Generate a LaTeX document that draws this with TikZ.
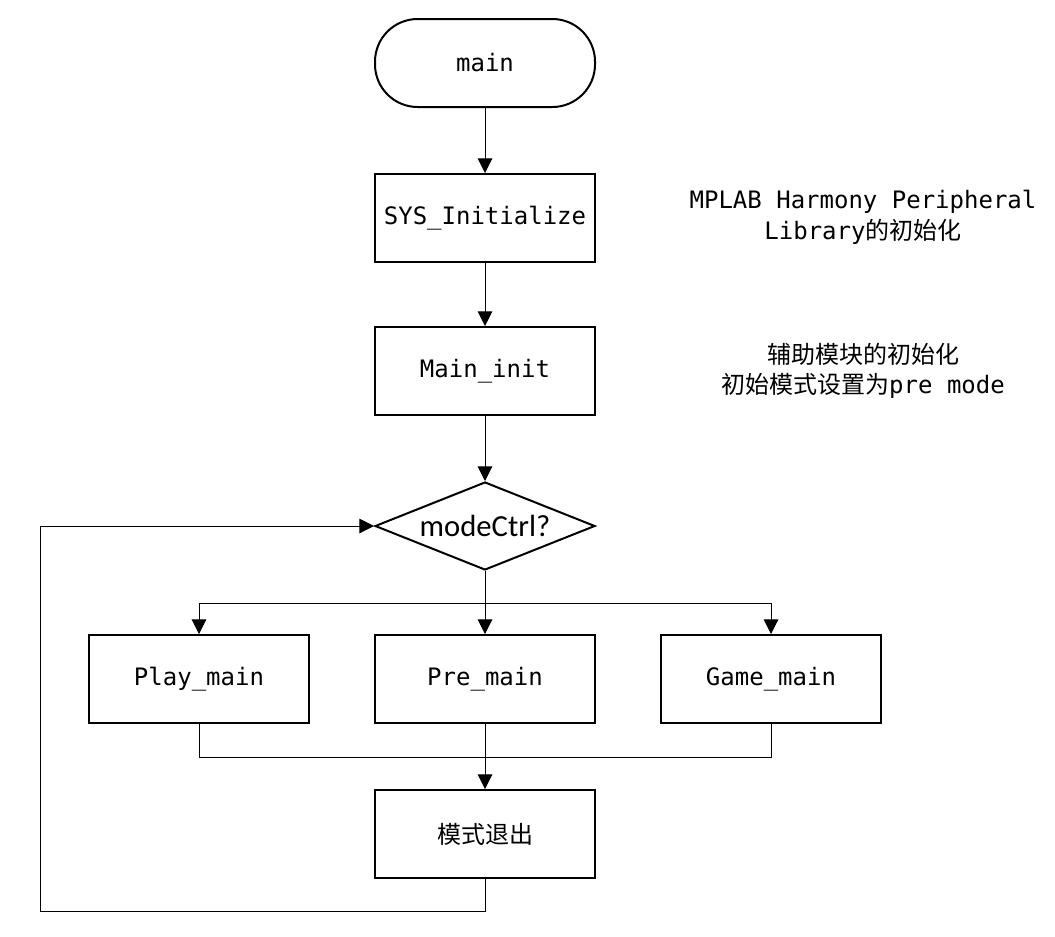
\documentclass[tikz,border=0pt]{standalone}
\usepackage{fontspec}
\setmonofont{DejaVu Sans Mono}
\newfontfamily\cjk{Noto Sans CJK SC}
\newfontfamily\ctrlfont{Carlito}
\usetikzlibrary{shapes.geometric,arrows.meta}

\tikzset{
  box/.style={draw, line width=1.5pt, minimum width=165pt, minimum height=66pt,
    inner sep=0pt, font=\ttfamily\fontsize{18}{23}\selectfont},
  startbox/.style={box, rounded corners=32pt},
  decision/.style={draw, line width=1.5pt, shape=diamond, aspect=2.5,
    minimum width=165pt, minimum height=66pt, inner sep=0pt,
    font=\ctrlfont\fontsize{23}{28}\selectfont},
  note/.style={align=center, font=\ttfamily\fontsize{18}{23}\selectfont},
  line/.style={line width=0.75pt},
  arr/.style={line, -{Triangle[length=11pt,width=11pt]}}
}

\begin{document}
\begin{tikzpicture}[x=0.75pt,y=-0.75pt]
\useasboundingbox (0,0) rectangle (1055,936);
\node[startbox] (main) at (485,63) {main};
\node[box] (sysinit) at (485,218) {SYS\_Initialize};
\node[box] (maininit) at (485,371) {Main\_init};
\node[decision] (modectrl) at (485,526) {modeCtrl?};
\node[box] (playmain) at (199,679) {Play\_main};
\node[box] (premain) at (485,679) {Pre\_main};
\node[box] (gamemain) at (771,679) {Game\_main};
\node[box] (modeexit) at (485,834) {\cjk 模式退出};
% comments on the right
\node[note] (sysnote) at (863,217) {MPLAB Harmony Peripheral\\Library{\cjk 的初始化}};
\node[note] (initnote) at (863,371) {{\cjk 辅助模块的初始化}\\{\cjk 初始模式设置为}pre mode};
% helper points
\coordinate (split) at (485,603);
\coordinate (join) at (485,757);
\coordinate (back) at (40,911);
% arrows
\draw[arr] (main) -- (sysinit);
\draw[arr] (sysinit) -- (maininit);
\draw[arr] (maininit) -- (modectrl);
\draw[arr] (modectrl.south) -- (premain);
\draw[arr] (split) -| (playmain.north);
\draw[arr] (split) -| (gamemain.north);
\draw[line] (playmain.south) |- (join);
\draw[line] (gamemain.south) |- (join);
\draw[arr] (premain) -- (modeexit);
\draw[arr] (modeexit.south) |- (back) |- (modectrl.west);
\end{tikzpicture}
\end{document}
